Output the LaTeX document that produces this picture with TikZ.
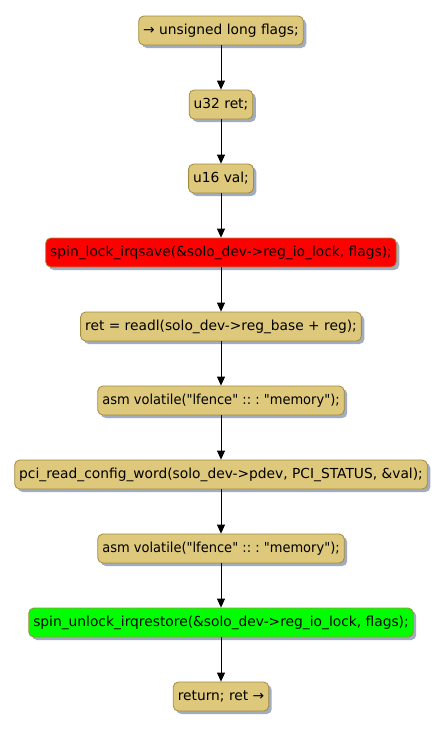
\documentclass[tikz,border=0pt]{standalone}
\usepackage{fontspec}
\usepackage{graphicx}
\setmainfont{DejaVu Sans}[Ligatures=TeXOff]
\usetikzlibrary{arrows.meta,shadows}
\definecolor{actfill}{HTML}{DDC87B}
\definecolor{actborder}{HTML}{A38B3E}
\definecolor{shadowc}{HTML}{A2ACC0}
\frenchspacing
\tikzset{
  act/.style={draw=actborder, line width=0.8pt, fill=actfill, rounded corners=5pt,
    minimum height=29pt, inner xsep=4.5pt, inner ysep=0pt, font=\fontsize{13.8}{16}\selectfont\frenchspacing,
    text=black, drop shadow={shadow xshift=3pt, shadow yshift=-3pt, fill=shadowc, opacity=1}},
  flow/.style={-{Triangle[length=9pt,width=8pt]}, line width=0.8pt, black}
}
\newcommand{\asmtext}{\scalebox{0.944}[1]{asm volatile("lfence" :: : "memory");}}
\begin{document}
\begin{tikzpicture}[x=1pt,y=1pt]
\useasboundingbox[fill=white] (0,0) rectangle (447,-729);
\node[act] (n1) at (221,-30.5) {→ unsigned long flags;};
\node[act] (n2) at (221,-104.5) {u32 ret;};
\node[act] (n3) at (221,-178.5) {u16 val;};
\node[act,fill=red] (n4) at (221,-252.5) {spin\_lock\_irqsave(\&solo\_dev->reg\_io\_lock, flags);};
\node[act] (n5) at (221,-326.5) {ret = readl(solo\_dev->reg\_base + reg);};
\node[act] (n6) at (221,-400.5) {\asmtext};
\node[act] (n7) at (221,-474.5) {pci\_read\_config\_word(solo\_dev->pdev, PCI\_STATUS, \&val);};
\node[act] (n8) at (221,-548.5) {\asmtext};
\node[act,fill=green] (n9) at (221,-622.5) {spin\_unlock\_irqrestore(\&solo\_dev->reg\_io\_lock, flags);};
\node[act] (n10) at (221,-696.5) {return; ret →};
\foreach \a/\b in {n1/n2,n2/n3,n3/n4,n4/n5,n5/n6,n6/n7,n7/n8,n8/n9,n9/n10}
  \draw[flow] (\a.south) -- (\b.north);
\end{tikzpicture}
\end{document}
